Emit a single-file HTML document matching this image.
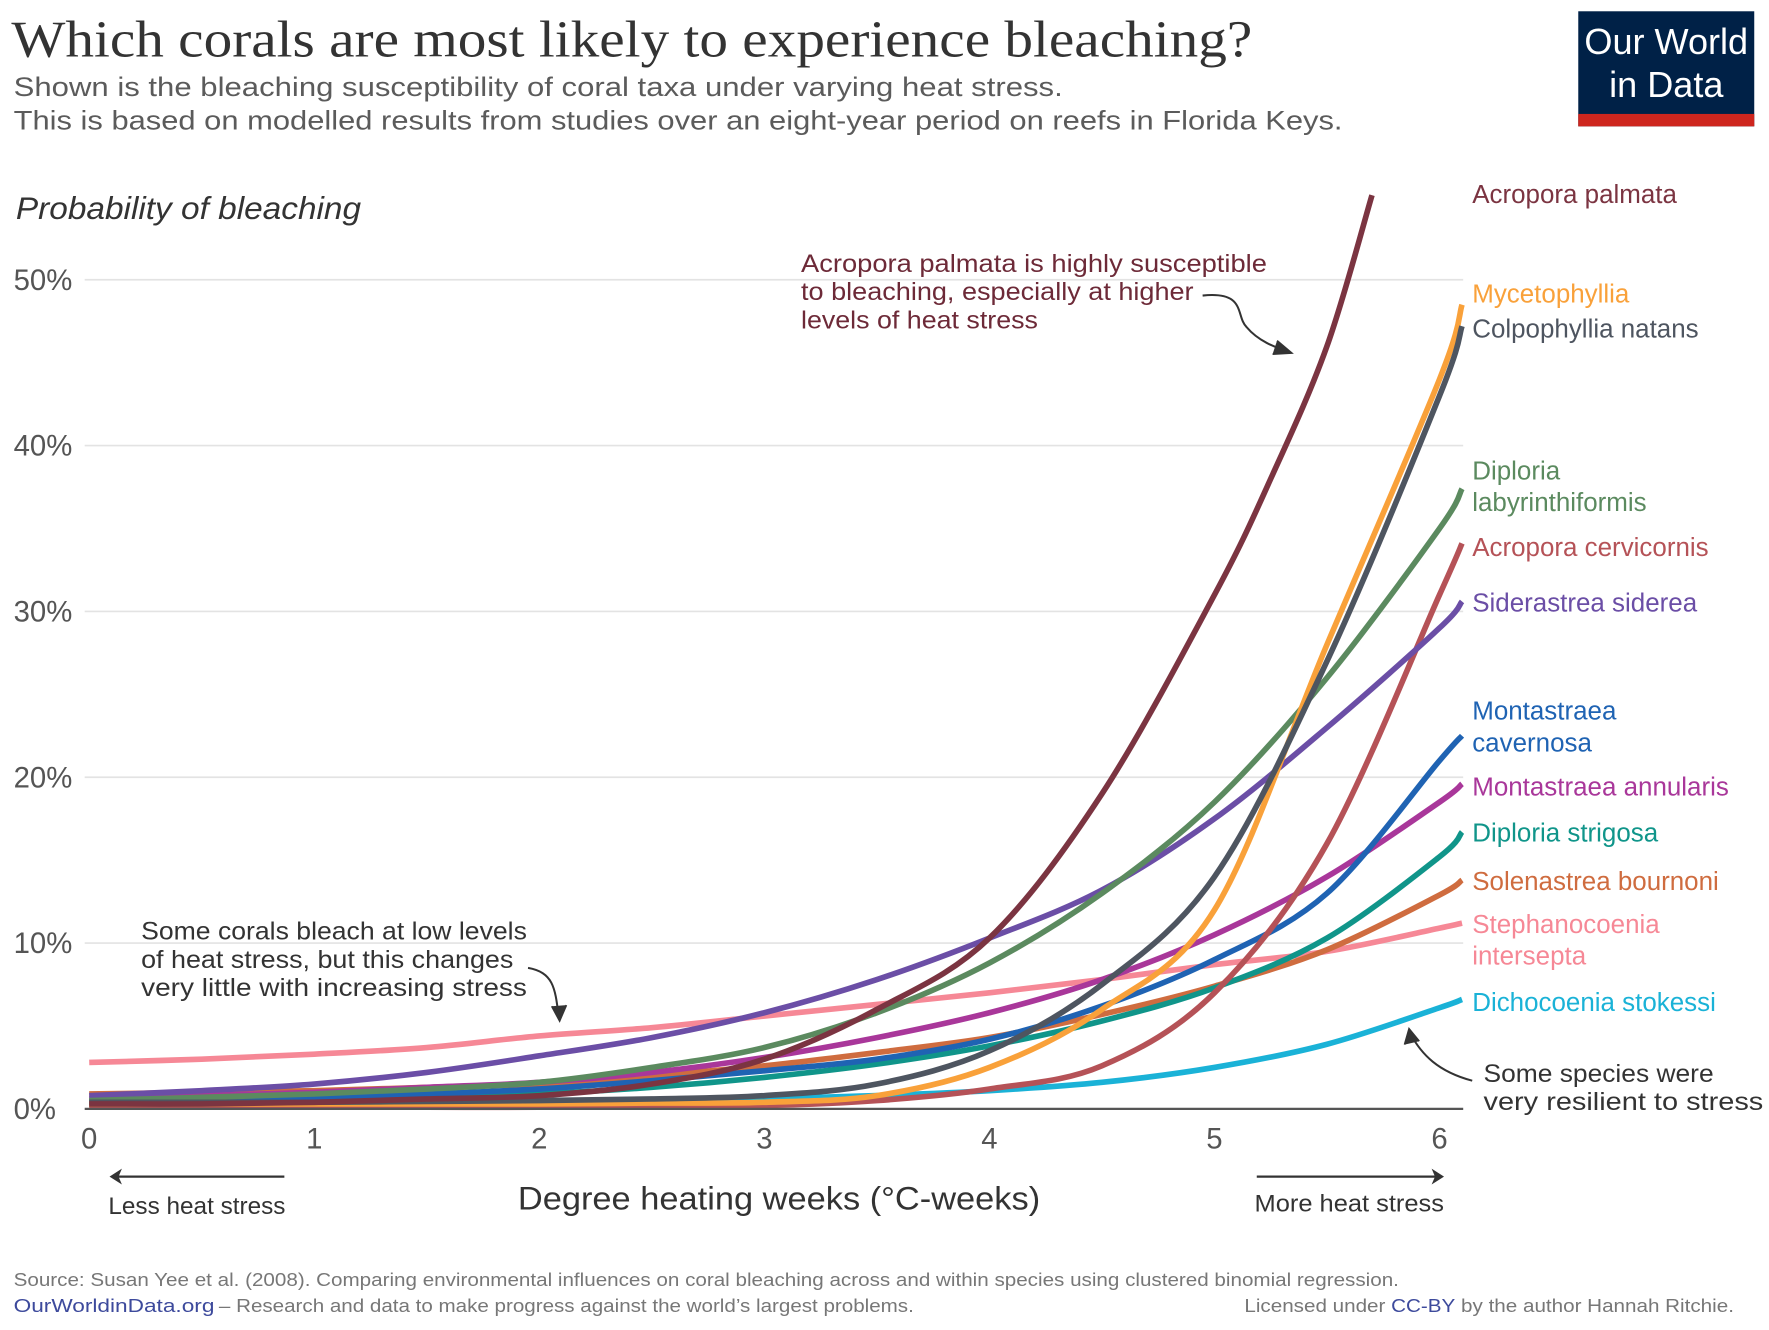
<!DOCTYPE html>
<html><head><meta charset="utf-8"><style>
html,body{margin:0;padding:0;background:#fff}
svg{display:block}
text{font-family:"Liberation Sans",sans-serif}
</style></head><body>
<svg id="chart" width="1769" height="1330" viewBox="0 0 1568 1179" xmlns="http://www.w3.org/2000/svg">
<text x="10" y="50" style="font-family:'Liberation Serif',serif" font-size="46" fill="#333" textLength="1100" lengthAdjust="spacingAndGlyphs">Which corals are most likely to experience bleaching?</text>
<text x="12" y="85" font-size="24" fill="#5b5b5b" textLength="930" lengthAdjust="spacingAndGlyphs">Shown is the bleaching susceptibility of coral taxa under varying heat stress.</text>
<text x="12" y="115" font-size="24" fill="#5b5b5b" textLength="1178" lengthAdjust="spacingAndGlyphs">This is based on modelled results from studies over an eight-year period on reefs in Florida Keys.</text>
<g>
<rect x="1399" y="10" width="156" height="102" fill="#002147"/>
<rect x="1399" y="101" width="156" height="11" fill="#ce261e"/>
<text x="1477" y="48" font-size="32" fill="#fff" text-anchor="middle">Our World</text>
<text x="1477" y="86" font-size="32" fill="#fff" text-anchor="middle">in Data</text>
</g>
<text x="14" y="194" font-size="28" font-style="italic" fill="#333" textLength="306" lengthAdjust="spacingAndGlyphs">Probability of bleaching</text>
<g id="grid"></g>
<g id="lines"></g>
<g id="labels"></g>
<g fill="#6d2a38" font-size="22">
<text x="710" y="241" textLength="413" lengthAdjust="spacingAndGlyphs">Acropora palmata is highly susceptible</text>
<text x="710" y="266" textLength="348" lengthAdjust="spacingAndGlyphs">to bleaching, especially at higher</text>
<text x="710" y="291" textLength="210" lengthAdjust="spacingAndGlyphs">levels of heat stress</text>
</g>
<path d="M1066,262 C1105,258 1095,280 1105,290 C1115,302 1130,308 1143,312" fill="none" stroke="#333" stroke-width="1.8"/>
<path d="M1132,302 L1145,313 L1128,314" fill="#333" stroke="#333" stroke-width="1.5"/>
<g fill="#333" font-size="22">
<text x="125" y="833" textLength="342" lengthAdjust="spacingAndGlyphs">Some corals bleach at low levels</text>
<text x="125" y="858" textLength="330" lengthAdjust="spacingAndGlyphs">of heat stress, but this changes</text>
<text x="125" y="883" textLength="342" lengthAdjust="spacingAndGlyphs">very little with increasing stress</text>
</g>
<path d="M468,858 C490,862 492,875 495,900" fill="none" stroke="#333" stroke-width="1.8"/>
<path d="M489,892 L496,905 L502,891" fill="#333" stroke="#333" stroke-width="1.5"/>
<g fill="#333" font-size="22">
<text x="1315" y="959" textLength="204" lengthAdjust="spacingAndGlyphs">Some species were</text>
<text x="1315" y="984" textLength="248" lengthAdjust="spacingAndGlyphs">very  resilient to  stress</text>
</g>
<path d="M1305,958 C1275,950 1260,935 1250,916" fill="none" stroke="#333" stroke-width="1.8"/>
<path d="M1245,926 L1249,912 L1258,923" fill="#333" stroke="#333" stroke-width="1.5"/>
<g id="xaxis"></g>
<path d="M100,1043 L252,1043" stroke="#333" stroke-width="2"/>
<path d="M97,1043 L108,1036 L105,1043 L108,1050 Z" fill="#333"/>
<path d="M1114,1043 L1276,1043" stroke="#333" stroke-width="2"/>
<path d="M1280,1043 L1269,1036 L1272,1043 L1269,1050 Z" fill="#333"/>
<text x="96" y="1076" font-size="21" fill="#333" textLength="157" lengthAdjust="spacingAndGlyphs">Less heat stress</text>
<text x="1112" y="1074" font-size="21" fill="#333" textLength="168" lengthAdjust="spacingAndGlyphs">More heat stress</text>
<text x="459" y="1072" font-size="29" fill="#333" textLength="463" lengthAdjust="spacingAndGlyphs">Degree heating weeks (°C-weeks)</text>
<text x="12" y="1140" font-size="16" fill="#777" textLength="1228" lengthAdjust="spacingAndGlyphs">Source: Susan Yee et al. (2008). Comparing environmental influences on coral bleaching across and within species using clustered binomial regression.</text>
<text x="12" y="1163" font-size="16" fill="#3d4a9c" textLength="178" lengthAdjust="spacingAndGlyphs">OurWorldinData.org</text>
<text x="194" y="1163" font-size="16" fill="#777" textLength="616" lengthAdjust="spacingAndGlyphs">– Research and data to make progress against the world’s largest problems.</text>
<text x="1103" y="1163" font-size="16" fill="#777" textLength="434" lengthAdjust="spacingAndGlyphs">Licensed under <tspan fill="#3d4a9c">CC-BY</tspan> by the author Hannah Ritchie.</text>
</svg>
<script>
const xValues = [0,0.5,1,1.5,2,2.5,3,3.5,4,4.5,5,5.5,6,6.1];
const yTicks = [0,10,20,30,40,50];
const xTicks = [0,1,2,3,4,5,6];
const palmataX = [0,0.5,1,1.5,2,2.5,3,3.5,4,4.5,5,5.25,5.5,5.7];
const palmata = [0.3,0.3,0.4,0.6,0.8,1.5,3,6,10.3,19,31,38,46,55.1];
const mycetophyllia = [0.3,0.3,0.3,0.3,0.3,0.35,0.4,0.8,2.5,6,12,28,44,48.5];
const colpophyllia = [0.4,0.4,0.4,0.45,0.5,0.6,0.8,1.5,3.5,7.5,14,27,43,47.2];
const dipLaby = [0.5,0.7,0.9,1.2,1.6,2.5,3.7,5.8,8.8,13,18.5,26,35,37.4];
const cervicornis = [0.1,0.1,0.1,0.1,0.1,0.15,0.2,0.5,1.2,2.6,7,16,31,34.1];
const siderastrea = [0.8,1.1,1.5,2.2,3.2,4.3,5.8,7.8,10.3,13.2,17.5,23,29,30.6];
const cavernosa = [0.4,0.5,0.7,0.9,1.2,1.7,2.3,3,4.2,6.2,9,13,21,22.5];
const annularis = [0.6,0.8,1,1.3,1.6,2.2,3.1,4.3,5.8,7.8,10.5,14,18.5,19.6];
const dipStrig = [0.4,0.45,0.5,0.7,0.9,1.3,1.9,2.7,3.8,5.3,7.3,10.3,15.2,16.7];
const solenastrea = [0.9,1,1.1,1.3,1.5,2,2.6,3.4,4.3,5.7,7.4,9.6,12.9,13.8];
const stephanocoenia = [2.8,3,3.3,3.7,4.4,4.9,5.6,6.3,7,7.8,8.7,9.5,10.9,11.2];
const dichocoenia = [0.3,0.3,0.35,0.4,0.45,0.5,0.6,0.8,1.1,1.6,2.5,3.9,6.1,6.6];

const NS='http://www.w3.org/2000/svg';
const xs = v => 79 + v*199.5;
const ys = v => 983 - v*14.7;
function mk(tag, attrs, parent){const e=document.createElementNS(NS,tag);for(const k in attrs)e.setAttribute(k,attrs[k]);parent.appendChild(e);return e;}

const grid=document.getElementById('grid');
yTicks.forEach(t=>{
  if(t>0){const l=mk('line',{x1:75,x2:1297,y1:ys(t),y2:ys(t),stroke:'#e3e3e3','stroke-width':1.5},grid);
  
  }
  const tx=mk('text',{x:12,y:ys(t)+9,'font-size':26,fill:'#555'},grid);
  tx.textContent=t+'%';
  
  
});
const xa=document.getElementById('xaxis');
const bl=mk('line',{x1:75,x2:1297,y1:983,y2:983,stroke:'#555','stroke-width':2},xa);


xTicks.forEach(t=>{
  const tx=mk('text',{x:xs(t),y:1018,'font-size':26,fill:'#555','text-anchor':'middle'},xa);
  tx.textContent=t;
  
  
});
function path(xv,yv){
  const p=xv.map((x,i)=>[xs(x),ys(yv[i])]);
  let d='M'+p[0][0]+','+p[0][1];
  for(let i=0;i<p.length-1;i++){
    const p0=p[i-1]||p[i],p1=p[i],p2=p[i+1],p3=p[i+2]||p2;
    const c1=[p1[0]+(p2[0]-p0[0])/6,p1[1]+(p2[1]-p0[1])/6];
    const c2=[p2[0]-(p3[0]-p1[0])/6,p2[1]-(p3[1]-p1[1])/6];
    d+=' C'+c1.join(',')+' '+c2.join(',')+' '+p2.join(',');
  }
  return d;
}
const series=[
 ['dichocoenia-stokessi',xValues,dichocoenia,'#1ab2d7',['Dichocoenia stokessi'],896,226],
 ['stephanocoenia-intersepta',xValues,stephanocoenia,'#f68896',['Stephanocoenia','intersepta'],827,173],
 ['solenastrea-bournoni',xValues,solenastrea,'#cf6c3f',['Solenastrea bournoni'],789,232],
 ['diploria-strigosa',xValues,dipStrig,'#10958a',['Diploria strigosa'],746,178],
 ['montastraea-annularis',xValues,annularis,'#a9379a',['Montastraea annularis'],705,244],
 ['montastraea-cavernosa',xValues,cavernosa,'#1f63b3',['Montastraea','cavernosa'],638,139],
 ['acropora-cervicornis',xValues,cervicornis,'#b55257',['Acropora cervicornis'],493,226],
 ['siderastrea-siderea',xValues,siderastrea,'#6b4ea6',['Siderastrea siderea'],542,207],
 ['diploria-labyrinthiformis',xValues,dipLaby,'#5b8a5f',['Diploria','labyrinthiformis'],425,174],
 ['mycetophyllia',xValues,mycetophyllia,'#f9a13a',['Mycetophyllia'],268,154],
 ['colpophyllia-natans',xValues,colpophyllia,'#4e5560',['Colpophyllia natans'],299,213],
 ['acropora-palmata',palmataX,palmata,'#7b3441',['Acropora palmata'],180,193]
];
const lg=document.getElementById('lines'),lb=document.getElementById('labels');
series.forEach(s=>{
  const p=mk('path',{d:path(s[1],s[2]),fill:'none',stroke:s[3],'stroke-width':5,'stroke-linecap':'butt'},lg);
  
  
  const t=mk('text',{x:1305,y:s[5],'font-size':23,fill:s[3]},lb);
  
  
  s[4].forEach((ln,i)=>{const ts=mk('tspan',{x:1305,y:s[5]+i*28},t);ts.textContent=ln;});
});
</script>
</body></html>
